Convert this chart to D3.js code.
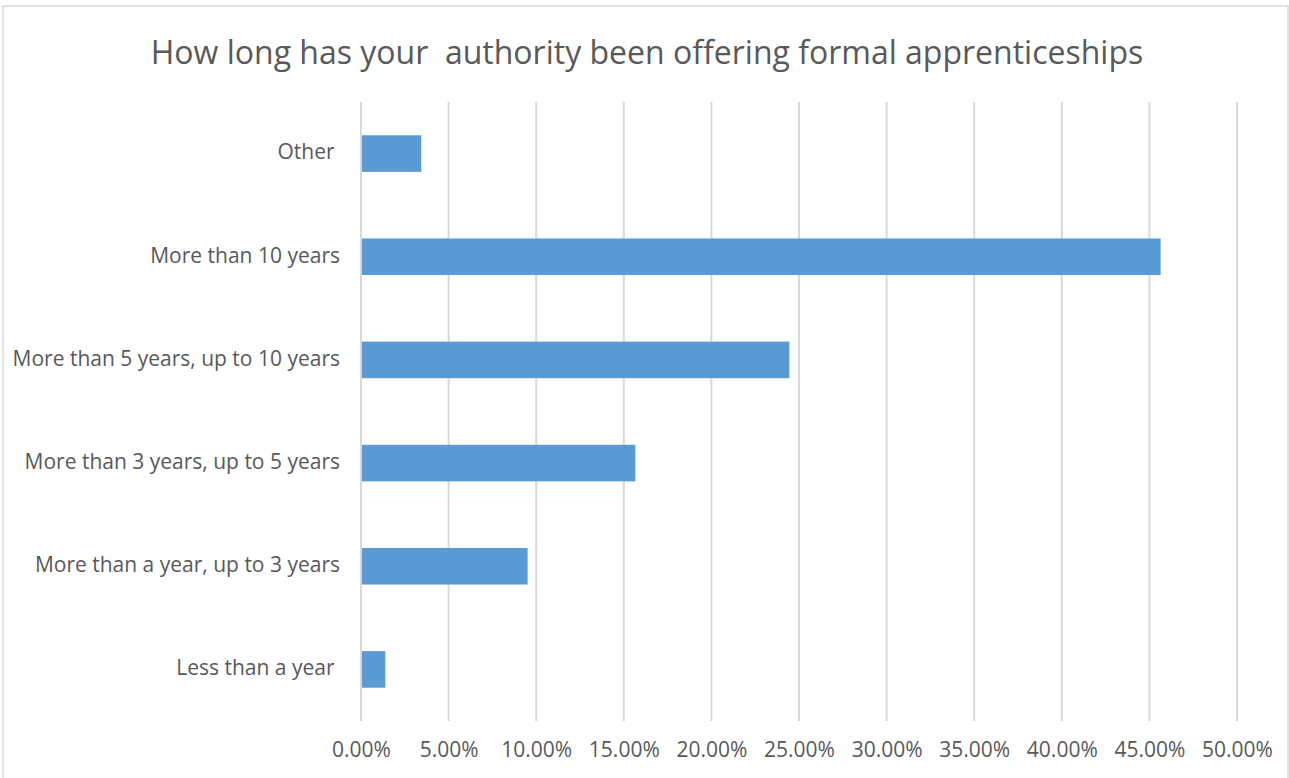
<!DOCTYPE html>
<html>
<head>
<meta charset="utf-8">
<script src="https://cdn.jsdelivr.net/npm/d3@7"></script>
<style>
  body { margin: 0; background: #fff; }
  text { font-family: "Open Sans", sans-serif; fill: #595959; }
  .cat text { white-space: pre; }
</style>
</head>
<body>
<svg id="chart" width="1289" height="778"></svg>
<script>
// categories top to bottom, values in percent
const categories = ["Other ", "More than 10 years", "More than 5 years, up to 10 years",
                    "More than 3 years, up to 5 years", "More than a year, up to 3 years", "Less than a year "]
const values = [3.44, 45.64, 24.45, 15.66, 9.51, 1.39]
const ticks = [0, 5, 10, 15, 20, 25, 30, 35, 40, 45, 50]
const title = "How long has your  authority been offering formal apprenticeships"

const svg = d3.select("#chart")
const plotLeft = 361, plotRight = 1237, plotTop = 102, plotBottom = 721

// chart border
svg.append("rect")
    .attr("x", 3).attr("y", 6)
    .attr("width", 1285).attr("height", 800)
    .attr("fill", "#fff")
    .attr("stroke", "#d9d9d9").attr("stroke-width", 1.5)

const x = d3.scaleLinear().domain([0, 50]).range([plotLeft, plotRight])
const y = d3.scaleBand().domain(categories).range([plotTop, plotBottom])
    .paddingInner(1.82 / 2.82).paddingOuter(1.82 / 2.82 / 2)

// gridlines
svg.append("g").selectAll("line")
    .data(ticks)
    .join("line")
    .attr("x1", d => x(d)).attr("x2", d => x(d))
    .attr("y1", plotTop).attr("y2", plotBottom)
    .attr("stroke", "#d9d9d9").attr("stroke-width", 2)

// bars
svg.append("g").selectAll("rect")
    .data(categories)
    .join("rect")
    .attr("x", x(0) + 1)
    .attr("y", d => y(d))
    .attr("width", (d, i) => x(values[i]) - x(0) - 1)
    .attr("height", y.bandwidth())
    .attr("fill", "#5b9bd5")

// x axis labels
const xAxis = d3.axisBottom(x).tickValues(ticks).tickSize(0).tickPadding(21)
    .tickFormat(d => d.toFixed(2) + "%")
svg.append("g")
    .attr("transform", `translate(0,${plotBottom})`)
    .call(xAxis)
    .call(g => g.select(".domain").remove())
    .selectAll("text")
    .attr("font-size", 21)
    .attr("font-family", null)
    .attr("fill", "#595959")

// y axis labels
const yAxis = d3.axisLeft(y).tickSize(0).tickPadding(21)
svg.append("g").attr("class", "cat")
    .attr("transform", `translate(${plotLeft},0)`)
    .call(yAxis)
    .call(g => g.select(".domain").remove())
    .selectAll("text")
    .attr("font-size", 21)
    .attr("dy", "0.28em")
    .attr("font-family", null)
    .attr("fill", "#595959")

// title
svg.append("text")
    .attr("x", 647).attr("y", 64)
    .attr("text-anchor", "middle")
    .attr("font-size", 32)
    .style("white-space", "pre")
    .text(title)
</script>
</body>
</html>
